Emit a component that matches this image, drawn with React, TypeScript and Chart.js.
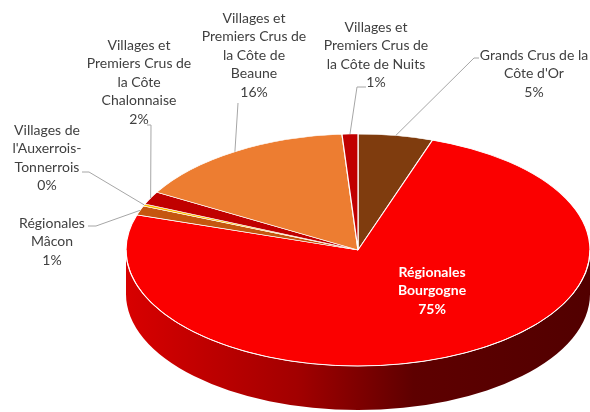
import React, { useEffect, useRef } from "react";
import { Chart, registerables } from "chart.js";

Chart.register(...registerables);

// ---- data ----
const categoryLines: string[][] = [
  ["Grands Crus de la", "Côte d'Or"],
  ["Régionales", "Bourgogne"],
  ["Régionales", "Mâcon"],
  ["Villages de", "l'Auxerrois-", "Tonnerrois"],
  ["Villages et", "Premiers Crus de", "la Côte", "Chalonnaise"],
  ["Villages et", "Premiers Crus de", "la Côte de", "Beaune"],
  ["Villages et", "Premiers Crus de", "la Côte de Nuits"],
];
const categories = categoryLines.map((l) => l.join(" "));
const shares = [5.2, 74.7, 1.3, 0.3, 1.8, 15.6, 1.1];
const sliceColors = ["#7F3C0E", "#FB0000", "#C5560F", "#FFC000", "#C00000", "#ED7D31", "#C00000"];

// ---- layout (label placement, not data) ----
const labelLayout = [
  { x: 534, y: 55, leader: [[479, 58], [474, 58]] },
  { x: 432, y: 272, inside: true, leader: [] as number[][] },
  { x: 52, y: 223, leader: [[88, 226], [96, 226]] },
  { x: 47, y: 130, leader: [[82, 172], [89, 172]] },
  { x: 139, y: 45, leader: [[147, 125], [151, 125]] },
  { x: 254, y: 18, leader: [[238, 103]] },
  { x: 376, y: 27, leader: [[366, 87], [357, 87]] },
];
const ELLIPSE_RY = 116;
const DEPTH = 44;
const LINE_H = 18.5;
const FONT = "Lato, 'Open Sans', sans-serif";

const pie3d = {
  id: "pie3d",
  beforeDatasetsDraw(chart: any) {
    const ctx = chart.ctx;
    const arcs = chart.getDatasetMeta(0).data;
    if (!arcs.length) return;
    const cx = arcs[0].x, cy = arcs[0].y, R = arcs[0].outerRadius;
    const ry = ELLIPSE_RY;
    // side walls
    arcs.forEach((arc: any, i: number) => {
      const a = Math.max(arc.startAngle, 0);
      const b = Math.min(arc.endAngle, Math.PI);
      if (b <= a) return;
      const g = ctx.createLinearGradient(cx - R, 0, cx + R, 0);
      if (i === 1) {
        g.addColorStop(0, "#D80000");
        g.addColorStop(0.37, "#A20000");
        g.addColorStop(0.62, "#5E0000");
        g.addColorStop(1, "#520000");
      } else {
        g.addColorStop(0, sliceColors[i]);
        g.addColorStop(1, "#000000");
      }
      ctx.save();
      ctx.beginPath();
      ctx.ellipse(cx, cy, R, ry, 0, a, b, false);
      ctx.ellipse(cx, cy + DEPTH, R, ry, 0, b, a, true);
      ctx.closePath();
      ctx.fillStyle = g;
      ctx.fill();
      ctx.restore();
    });
    ctx.save();
    ctx.translate(cx, cy);
    ctx.scale(1, ry / R);
    ctx.translate(-cx, -cy);
  },
  afterDatasetsDraw(chart: any) {
    const ctx = chart.ctx;
    ctx.restore();
    const arcs = chart.getDatasetMeta(0).data;
    const cx = arcs[0].x, cy = arcs[0].y, R = arcs[0].outerRadius;
    // white rim line between top face and side
    ctx.save();
    ctx.beginPath();
    ctx.ellipse(cx, cy, R, ELLIPSE_RY, 0, 0, Math.PI, false);
    ctx.strokeStyle = "rgba(255,255,255,0.9)";
    ctx.lineWidth = 1;
    ctx.stroke();
    ctx.restore();
  },
  afterDraw(chart: any) {
    const ctx = chart.ctx;
    const arcs = chart.getDatasetMeta(0).data;
    const cx = arcs[0].x, cy = arcs[0].y, R = arcs[0].outerRadius;
    const total = shares.reduce((s, v) => s + v, 0);
    ctx.save();
    arcs.forEach((arc: any, i: number) => {
      const lay = labelLayout[i];
      const mid = (arc.startAngle + arc.endAngle) / 2;
      if (lay.leader.length) {
        const ex = cx + R * Math.cos(mid);
        const ey = cy + ELLIPSE_RY * Math.sin(mid);
        ctx.beginPath();
        ctx.moveTo(lay.leader[0][0], lay.leader[0][1]);
        for (let k = 1; k < lay.leader.length; k++) ctx.lineTo(lay.leader[k][0], lay.leader[k][1]);
        ctx.lineTo(ex, ey);
        ctx.strokeStyle = "#A6A6A6";
        ctx.lineWidth = 1;
        ctx.stroke();
      }
      const lines = [...categoryLines[i], Math.round((shares[i] / total) * 100) + "%"];
      ctx.font = (lay.inside ? "bold " : "") + "14px " + FONT;
      ctx.fillStyle = lay.inside ? "#FFFFFF" : "#404040";
      ctx.textAlign = "center";
      ctx.textBaseline = "middle";
      lines.forEach((t, j) => ctx.fillText(t, lay.x, lay.y + j * LINE_H));
    });
    ctx.restore();
  },
};

export default function App() {
  const ref = useRef<HTMLCanvasElement | null>(null);
  useEffect(() => {
    if (!ref.current) return;
    const chart = new Chart(ref.current, {
      type: "pie",
      data: {
        labels: categories,
        datasets: [
          {
            data: shares,
            backgroundColor: sliceColors,
            borderColor: "#FFFFFF",
            borderWidth: 1.2,
            clip: false as any,
          },
        ],
      },
      options: {
        animation: false,
        responsive: false,
        devicePixelRatio: 1,
        events: [],
        radius: 232,
        layout: { padding: { left: 126, top: 88, right: 0, bottom: 0 } },
        plugins: { legend: { display: false }, tooltip: { enabled: false } },
      } as any,
      plugins: [pie3d],
    });
    return () => chart.destroy();
  }, []);
  return (
    <div style={{ position: "fixed", left: 0, top: 0, width: 590, height: 412, background: "#fff" }}>
      <canvas ref={ref} width={590} height={412} style={{ width: 590, height: 412 }} />
    </div>
  );
}
